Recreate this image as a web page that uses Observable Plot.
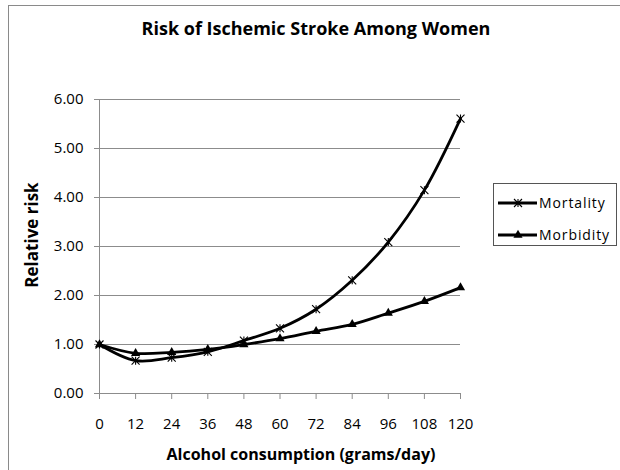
<!DOCTYPE html>
<html><head><meta charset="utf-8">
<script src="https://cdn.jsdelivr.net/npm/d3@7"></script>
<script src="https://cdn.jsdelivr.net/npm/@observablehq/plot@0.6"></script>
<style>
body{margin:0;background:#fff;}
#wrap{position:relative;width:620px;height:470px;overflow:hidden;font-family:"Open Sans",sans-serif;background:#fff;}
#frame{position:absolute;left:8px;top:5px;width:700px;height:600px;border:1px solid #8a8a8a;}
#chart{position:absolute;left:0;top:0;}
#annot{position:absolute;left:0;top:0;}
</style></head><body>
<div id="wrap">
  <div id="frame"></div>
  <div id="chart"></div>
  <svg id="annot" width="620" height="470"></svg>
</div>
<script>
const title = "Risk of Ischemic Stroke Among Women";
const xTitle = "Alcohol consumption (grams/day)";
const yTitle = "Relative risk";
const doses = [0, 12, 24, 36, 48, 60, 72, 84, 96, 108, 120];
const mortality = [1.00, 0.67, 0.73, 0.85, 1.08, 1.33, 1.72, 2.31, 3.09, 4.15, 5.61];
const morbidity = [1.00, 0.82, 0.84, 0.90, 1.00, 1.12, 1.27, 1.41, 1.64, 1.88, 2.16];
const seriesNames = ["Mortality", "Morbidity"];
const yTicks = [0, 1, 2, 3, 4, 5, 6];

const FONT = "'Open Sans', sans-serif";

const star = {
  draw(context, size) {
    const s = Math.sqrt(size / Math.PI);
    context.moveTo(-s, -s); context.lineTo(s, s);
    context.moveTo(s, -s); context.lineTo(-s, s);
    context.moveTo(0, -s); context.lineTo(0, s);
  }
};

const mortData = doses.map((d, i) => ({dose: d, value: mortality[i], series: seriesNames[0]}));
const morbData = doses.map((d, i) => ({dose: d, value: morbidity[i], series: seriesNames[1]}));
const all = mortData.concat(morbData);

const grid = "#8c8c8c";
const chart = Plot.plot({
  width: 620, height: 470,
  marginLeft: 99, marginRight: 160, marginTop: 99, marginBottom: 77,
  style: {background: "transparent", fontFamily: FONT, fontSize: "15px", color: "#000"},
  x: {type: "linear", domain: [0, 120]},
  y: {domain: [0, 6]},
  marks: [
    Plot.gridY(yTicks, {stroke: grid, strokeOpacity: 1}),
    Plot.ruleX([0], {stroke: grid}),
    Plot.axisY(yTicks, {tickSize: 5, tickPadding: 11, tickFormat: d3.format(".2f"), stroke: grid, fill: "#000", label: null}),
    Plot.axisX(doses, {tickSize: 6, tickPadding: 19, tickFormat: d => String(d), stroke: grid, fill: "#000", label: null}),
    Plot.line(all, {x: "dose", y: "value", z: "series", curve: "catmull-rom", stroke: "#000", strokeWidth: 2.8}),
    Plot.dot(mortData, {x: "dose", y: "value", symbol: star, r: 4, stroke: "#000", strokeWidth: 1.1, fill: "none"}),
    Plot.dot(morbData, {x: "dose", y: "value", symbol: "triangle", r: 3.4, fill: "#000", stroke: "none"})
  ]
});
document.getElementById("chart").appendChild(chart);

const svg = d3.select("#annot");
svg.append("text").attr("x", 316).attr("y", 35).attr("text-anchor", "middle")
  .attr("font-family", FONT).attr("font-weight", "bold").attr("font-size", 18).text(title);
svg.append("text").attr("x", 301).attr("y", 460).attr("text-anchor", "middle")
  .attr("font-family", FONT).attr("font-weight", "bold").attr("font-size", 16).text(xTitle);
svg.append("text").attr("transform", "translate(38,235) rotate(-90)").attr("text-anchor", "middle")
  .attr("font-family", FONT).attr("font-weight", "bold").attr("font-size", 17).text(yTitle);

// legend
const lg = svg.append("g").attr("transform", "translate(493,183)");
lg.append("rect").attr("x", 0.5).attr("y", 0.5).attr("width", 123).attr("height", 62)
  .attr("fill", "#fff").attr("stroke", "#555");
const symbols = [star, d3.symbolTriangle];
seriesNames.forEach((name, i) => {
  const cy = 20 + i * 32;
  const g = lg.append("g").attr("transform", `translate(0,${cy})`);
  g.append("line").attr("x1", 5).attr("x2", 44).attr("stroke", "#000").attr("stroke-width", 2.8);
  const p = d3.symbol(symbols[i], i === 0 ? Math.PI * 16 : Math.PI * 3.4 * 3.4)();
  g.append("path").attr("d", p).attr("transform", "translate(25,0)")
    .attr("fill", i === 0 ? "none" : "#000").attr("stroke", i === 0 ? "#000" : "none").attr("stroke-width", 1.1);
  g.append("text").attr("x", 46).attr("y", 5).attr("font-family", FONT).attr("font-size", 14)
    .attr("letter-spacing", "0.9px").text(name);
});
</script>
</body></html>
